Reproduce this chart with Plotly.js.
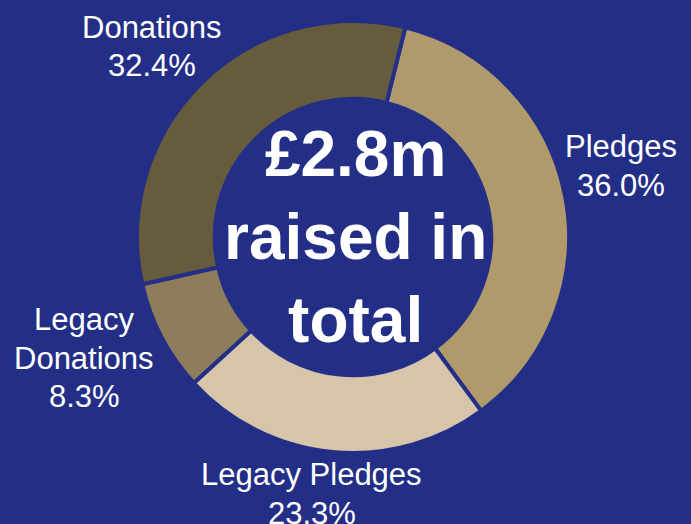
<!DOCTYPE html>
<html>
<head>
<meta charset="utf-8">
<script src="https://cdn.plot.ly/plotly-3.0.1.min.js"></script>
<style>
html,body{margin:0;padding:0;background:#232f86;}
#chart{width:691px;height:524px;}
</style>
</head>
<body>
<div id="chart"></div>
<script>
const categories = ["Pledges", "Legacy Pledges", "Legacy Donations", "Donations"];
const labelLines = [["Pledges"], ["Legacy Pledges"], ["Legacy", "Donations"], ["Donations"]];
const shares = [36.0, 23.3, 8.3, 32.4];
const sliceColors = ["#b09a6b", "#d6c5aa", "#8e7d5b", "#675b3e"];
const centreText = "£2.8m<br>raised in<br>total";

const bg = "#232f86";
const W = 691, H = 524;
// label block centres in pixels (layout only)
const labelPos = [[621, 166], [311.5, 494], [84, 358], [151.5, 46.5]];
const lineGap = 38.3;
const labelFont = {family: "Liberation Sans, Arial, sans-serif", size: 31, color: "#ffffff"};

const annotations = [];
categories.forEach((c, i) => {
  const lines = labelLines[i].concat([shares[i].toFixed(1) + "%"]);
  const n = lines.length;
  lines.forEach((t, j) => {
    const py = labelPos[i][1] + (j - (n - 1) / 2) * lineGap;
    annotations.push({
      text: t,
      xref: "paper", yref: "paper",
      x: labelPos[i][0] / W, y: 1 - py / H,
      xanchor: "center", yanchor: "middle",
      showarrow: false, align: "center",
      font: labelFont
    });
  });
});
annotations.push({
  text: "<b>" + centreText + "</b>",
  xref: "paper", yref: "paper",
  x: 355 / W, y: 1 - 237 / H,
  xanchor: "center", yanchor: "middle",
  showarrow: false, align: "center",
  font: {family: "Liberation Sans, Arial, sans-serif", size: 64, color: "#ffffff"}
});

const trace = {
  type: "pie",
  labels: categories,
  values: shares,
  sort: false,
  direction: "clockwise",
  rotation: 14,
  hole: 0.64,
  textinfo: "none",
  hoverinfo: "none",
  marker: {colors: sliceColors, line: {color: bg, width: 4}},
  domain: {x: [137 / W, 569 / W], y: [(H - 453) / H, (H - 21) / H]},
  showlegend: false
};

Plotly.newPlot("chart", [trace], {
  width: W, height: H,
  margin: {l: 0, r: 0, t: 0, b: 0},
  paper_bgcolor: bg, plot_bgcolor: bg,
  showlegend: false,
  annotations: annotations
}, {displayModeBar: false, staticPlot: true});
</script>
</body>
</html>
